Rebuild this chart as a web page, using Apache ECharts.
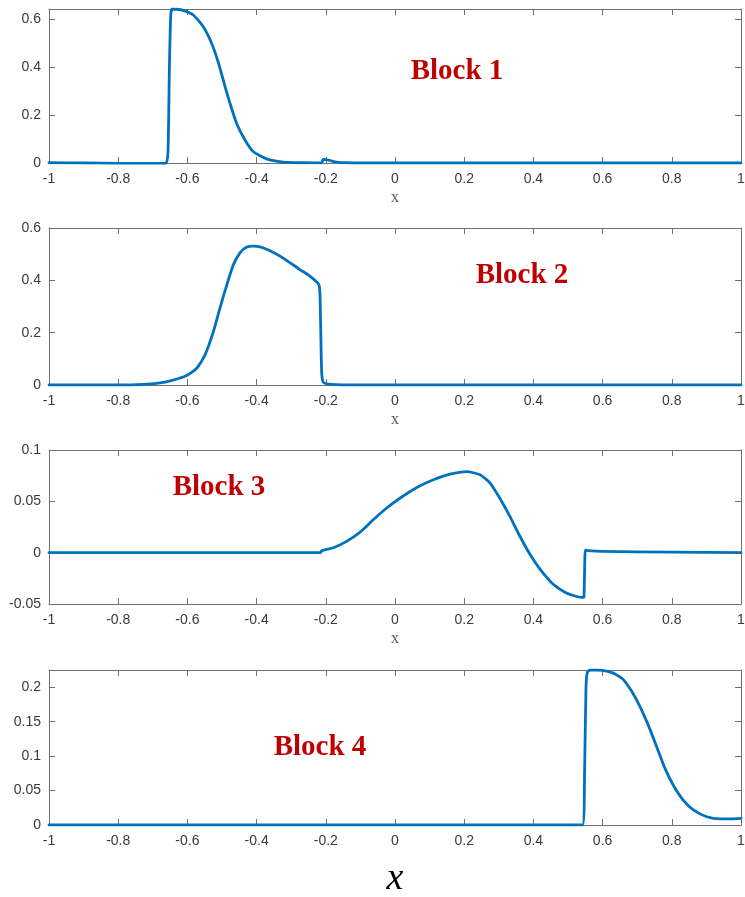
<!DOCTYPE html>
<html>
<head>
<meta charset="utf-8">
<script src="https://cdn.jsdelivr.net/npm/echarts@6/dist/echarts.min.js"></script>
<style>html,body{margin:0;padding:0;background:#fff;}#chart{width:745px;height:897px;}</style>
</head>
<body>
<div id="chart"></div>
<script>
// ---- Data ----
var xTicks = [-1, -0.8, -0.6, -0.4, -0.2, 0, 0.2, 0.4, 0.6, 0.8, 1];

var x1 = [-1, -0.9, -0.8, -0.7, -0.662, -0.656, -0.652, -0.648, -0.644, -0.63, -0.612, -0.583, -0.554, -0.530, -0.510, -0.494, -0.477, -0.458, -0.434, -0.410, -0.371, -0.323, -0.27, -0.22, -0.212, -0.208, -0.2, -0.185, -0.169, -0.14, -0.1, 0, 0.5, 1];
var y1 = [0.001, 0, -0.002, -0.002, -0.002, 0.05, 0.4, 0.62, 0.642, 0.641, 0.636, 0.617, 0.568, 0.499, 0.416, 0.333, 0.249, 0.166, 0.097, 0.048, 0.017, 0.004, 0.001, 0.0005, 0.001, 0.015, 0.014, 0.009, 0.004, 0.001, 0, 0, 0, 0];

var x2 = [-1, -0.8, -0.728, -0.689, -0.641, -0.602, -0.573, -0.549, -0.525, -0.506, -0.486, -0.467, -0.448, -0.43, -0.41, -0.39, -0.361, -0.323, -0.275, -0.25, -0.22, -0.216, -0.212, -0.207, -0.19, -0.15, 0, 1];
var y2 = [0, 0, 0.002, 0.006, 0.019, 0.036, 0.064, 0.115, 0.204, 0.294, 0.383, 0.46, 0.505, 0.526, 0.531, 0.528, 0.513, 0.485, 0.441, 0.42, 0.383, 0.3, 0.05, 0.01, 0.003, 0, 0, 0];

var x3 = [-1, -0.5, -0.216, -0.212, -0.2, -0.178, -0.14, -0.101, -0.063, -0.024, 0.014, 0.063, 0.111, 0.159, 0.207, 0.246, 0.275, 0.303, 0.332, 0.361, 0.390, 0.419, 0.458, 0.496, 0.540, 0.546, 0.550, 0.556, 0.6, 0.8, 1];
var y3 = [0, 0, 0, 0.002, 0.003, 0.0048, 0.011, 0.020, 0.032, 0.0435, 0.053, 0.0635, 0.071, 0.0765, 0.079, 0.0758, 0.0678, 0.053, 0.0354, 0.016, -0.0016, -0.016, -0.031, -0.0394, -0.0436, -0.043, 0.0025, 0.002, 0.0012, 0.0005, 0];

var x4 = [-1, 0, 0.5, 0.542, 0.548, 0.552, 0.556, 0.564, 0.585, 0.6, 0.615, 0.631, 0.645, 0.660, 0.684, 0.708, 0.732, 0.756, 0.780, 0.804, 0.833, 0.862, 0.901, 0.939, 0.97, 1];
var y4 = [0, 0, 0, 0, 0.08, 0.2, 0.222, 0.225, 0.225, 0.2245, 0.223, 0.2205, 0.2165, 0.211, 0.194, 0.172, 0.145, 0.114, 0.0825, 0.058, 0.036, 0.022, 0.012, 0.0088, 0.0088, 0.0095];

var blockNames = ['Block 1', 'Block 2', 'Block 3', 'Block 4'];
var yMins = [0, 0, -0.05, 0];
var yMaxs = [0.642, 0.6, 0.1, 0.225];
var yIntervals = [0.2, 0.2, 0.05, 0.05];

// ---- Layout ----
var panels = [
  {top: 9, height: 154, xs: x1, ys: y1, lx: 457, ly: 72},
  {top: 228, height: 157, xs: x2, ys: y2, lx: 522, ly: 276},
  {top: 450, height: 154, xs: x3, ys: y3, lx: 219, ly: 488},
  {top: 670, height: 155, xs: x4, ys: y4, lx: 320, ly: 748}
];
var axisColor = '#707070';
var labelColor = '#3a3a3a';
var grids = [], xAxes = [], yAxes = [], series = [], graphics = [];

panels.forEach(function (p, i) {
  grids.push({left: 49, right: 4, top: p.top, height: p.height, containLabel: false, outerBoundsMode: 'none'});
  var last = (i === 3);
  xAxes.push({
    type: 'value', gridIndex: i, position: 'bottom', min: -1, max: 1, interval: 0.2,
    axisLine: {show: true, onZero: false, lineStyle: {color: axisColor, width: 1}},
    axisTick: {show: true, inside: true, length: 6, lineStyle: {color: axisColor}},
    splitLine: {show: false},
    axisLabel: {show: true, color: labelColor, fontFamily: 'Liberation Sans', fontSize: 14, margin: 9},
    name: 'x',
    nameLocation: 'middle',
    nameGap: last ? 35 : 27,
    nameTextStyle: last
      ? {fontFamily: 'Liberation Serif', fontStyle: 'italic', fontSize: 38, color: '#000'}
      : {fontFamily: 'Liberation Serif', fontSize: 16, color: '#555'}
  });
  xAxes.push({
    type: 'value', gridIndex: i, position: 'top', min: -1, max: 1, interval: 0.2,
    axisLine: {show: true, onZero: false, lineStyle: {color: axisColor, width: 1}},
    axisTick: {show: true, inside: true, length: 6, lineStyle: {color: axisColor}},
    splitLine: {show: false}, axisLabel: {show: false}
  });
  yAxes.push({
    type: 'value', gridIndex: i, position: 'left', min: yMins[i], max: yMaxs[i], interval: yIntervals[i],
    axisLine: {show: true, onZero: false, lineStyle: {color: axisColor, width: 1}},
    axisTick: {show: true, inside: true, length: 6, lineStyle: {color: axisColor}},
    splitLine: {show: false},
    axisLabel: {show: true, color: labelColor, fontFamily: 'Liberation Sans', fontSize: 14, margin: 8, showMaxLabel: (i === 1 || i === 2)}
  });
  yAxes.push({
    type: 'value', gridIndex: i, position: 'right', min: yMins[i], max: yMaxs[i], interval: yIntervals[i],
    axisLine: {show: true, onZero: false, lineStyle: {color: axisColor, width: 1}},
    axisTick: {show: true, inside: true, length: 6, lineStyle: {color: axisColor}},
    splitLine: {show: false}, axisLabel: {show: false}
  });
  var data = p.xs.map(function (x, k) { return [x, p.ys[k]]; });
  series.push({
    type: 'line', name: blockNames[i], xAxisIndex: 2 * i, yAxisIndex: 2 * i,
    data: data, showSymbol: false, symbol: 'none',
    smooth: 0.2,
    lineStyle: {color: '#0072BD', width: 2.8, join: 'round', cap: 'round'},
    clip: true
  });
  graphics.push({
    type: 'text', x: p.lx, y: p.ly,
    style: {text: blockNames[i], fill: '#C00000', fontFamily: 'Liberation Serif', fontWeight: 'bold', fontSize: 29, align: 'center', verticalAlign: 'middle'}
  });
});

var chart = echarts.init(document.getElementById('chart'), null, {renderer: 'canvas'});
chart.setOption({
  animation: false,
  backgroundColor: '#ffffff',
  grid: grids,
  xAxis: xAxes,
  yAxis: yAxes,
  series: series,
  graphic: graphics
});
</script>
</body>
</html>
